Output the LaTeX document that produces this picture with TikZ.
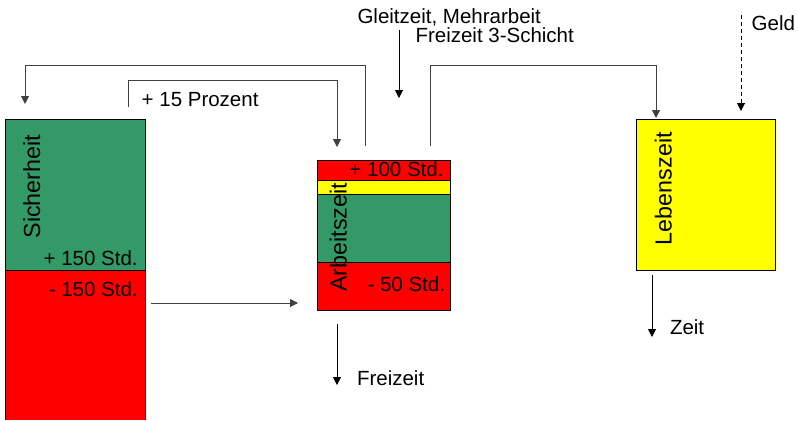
\documentclass[tikz,border=0pt]{standalone}
\usepackage{fontspec}
\setmainfont{Liberation Sans}
\usetikzlibrary{arrows.meta}
\definecolor{pgreen}{HTML}{339966}
\definecolor{pred}{HTML}{FF0000}
\definecolor{pyellow}{HTML}{FFFF00}
\begin{document}
\begin{tikzpicture}[x=1bp,y=-1bp,
  seg/.style={draw=black,line width=0.8bp,inner sep=0,outer sep=0,anchor=north west},
  lbl/.style={font=\fontsize{20.5bp}{24bp}\selectfont,inner sep=0,outer sep=0},
  vlbl/.style={font=\fontsize{23.3bp}{27bp}\selectfont,inner sep=0,outer sep=0,rotate=90,anchor=base west},
  conn/.style={draw=black!75,line width=1bp},
  tip/.style={-{Triangle[length=8bp,width=8bp]}}]
\useasboundingbox (0,0) rectangle (798,420);

% Sicherheit column
\node[seg,fill=pgreen,minimum width=140bp,minimum height=151bp] (sgreen) at (5,119) {};
\node[inner sep=0,outer sep=0,anchor=north west,fill=pred,minimum width=140bp,minimum height=150bp] (sred) at (5,270) {};
\draw[line width=0.8bp] (sgreen.south west) -- (sred.south west);
\draw[line width=0.8bp] (sgreen.south east) -- (sred.south east);
\draw[line width=0.8bp] (sgreen.south west) -- (sgreen.south east);
\node[vlbl] (tsich) at (40,238.5) {Sicherheit};
\node[lbl,anchor=base east] (tsplus) at (137.7,265) {+ 150 Std.};
\node[lbl,anchor=base east] (tsminus) at (137.7,296) {- 150 Std.};

% Arbeitszeit column
\node[seg,fill=pred,minimum width=133bp,minimum height=20bp] (ared1) at (317,160) {};
\node[seg,fill=pyellow,minimum width=133bp,minimum height=14bp] (ayel) at (317,180) {};
\node[seg,fill=pgreen,minimum width=133bp,minimum height=68bp] (agreen) at (317,194) {};
\node[seg,fill=pred,minimum width=133bp,minimum height=48bp] (ared2) at (317,262) {};
\node[vlbl] (tarb) at (346.5,291.7) {Arbeitszeit};
\node[lbl,anchor=base east] (taplus) at (443.5,176.7) {+ 100 Std.};
\node[lbl,anchor=base east] (taminus) at (445,291.7) {- 50 Std.};

% Lebenszeit
\node[seg,fill=pyellow,minimum width=139bp,minimum height=151bp] (leben) at (636,119) {};
\node[vlbl] (tleb) at (671.7,245) {Lebenszeit};

% free labels
\node[lbl,anchor=base west] (tgleit) at (357.5,23) {Gleitzeit, Mehrarbeit};
\node[lbl,anchor=base west] (tfrei3) at (415.5,42.5) {Freizeit 3-Schicht};
\node[lbl,anchor=base west] (tproz) at (141.7,106) {+ 15 Prozent};
\node[lbl,anchor=base west] (tgeld) at (751.7,30) {Geld};
\node[lbl,anchor=base west] (tzeit) at (670,334) {Zeit};
\node[lbl,anchor=base west] (tfrei) at (357,385) {Freizeit};

% connector end points
\coordinate (a1) at (365,146); \coordinate (ak) at (25,65); \coordinate (a2) at (25,104);
\coordinate (b1) at (128,107); \coordinate (bk) at (337,80); \coordinate (b2) at (337,147);
\coordinate (c1) at (430,146); \coordinate (ck) at (656,65); \coordinate (c2) at (656,118);
\coordinate (g1) at (399,30); \coordinate (g2) at (399,98);
\coordinate (e1) at (741,15); \coordinate (e2) at (741,111);
\coordinate (h1) at (151,303); \coordinate (h2) at (298,303);
\coordinate (f1) at (337,324); \coordinate (f2) at (337,385);
\coordinate (z1) at (652,275); \coordinate (z2) at (652,337);

\draw[conn,tip] (a1) |- (ak) -- (a2);
\draw[conn,tip] (b1) |- (bk) -- (b2);
\draw[conn,tip] (c1) |- (ck) -- (c2);
\draw[conn,tip,draw=black] (g1) -- (g2);
\draw[conn,tip,draw=black,dash pattern=on 4bp off 3bp] (e1) -- (e2);
\draw[conn,tip] (h1) -- (h2);
\draw[conn,tip,draw=black] (f1) -- (f2);
\draw[conn,tip,draw=black] (z1) -- (z2);
\end{tikzpicture}
\end{document}
